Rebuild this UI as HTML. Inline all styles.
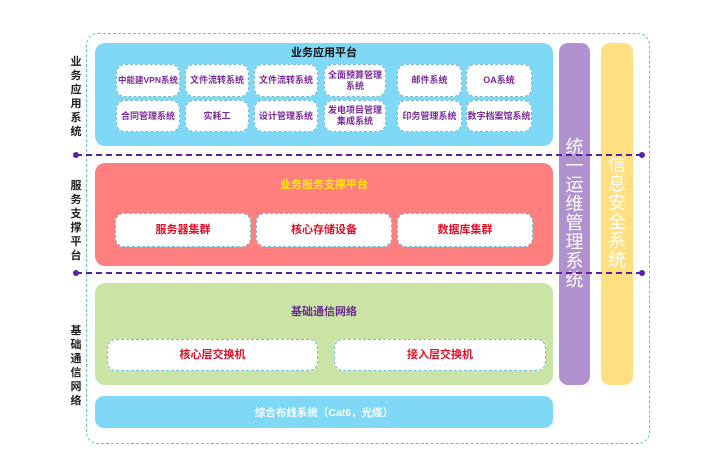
<!DOCTYPE html>
<html><head><meta charset="utf-8"><style>
*{margin:0;padding:0;box-sizing:border-box}
body{width:709px;height:452px;background:#fff;position:relative;overflow:hidden;font-family:"Liberation Sans","Noto Sans CJK SC",sans-serif;font-weight:bold}
.a{position:absolute}
.outer{left:86px;top:33px;width:564px;height:411px;border:1.5px dashed #5fc4d0;border-radius:12px}
.panel{border-radius:10px}
.box{position:absolute;background:#fff;border:1.5px dashed #6bbfd0;border-radius:9px;display:flex;align-items:center;justify-content:center;text-align:center;font-size:9px;color:#7a2a9a;line-height:11px}
.vt{position:absolute;width:14px;font-size:11px;line-height:14px;color:#222;text-align:center}
.big{position:absolute;font-size:18px;line-height:19px;color:#fff;text-align:center;font-weight:normal}
.dl{position:absolute;left:76px;width:566px;border-top:2px dashed #5a22a0;z-index:5}
.dot{position:absolute;width:6px;height:6px;border-radius:50%;background:#5a22a0;z-index:5}
</style></head><body>
<div class="a outer"></div>
<div class="a panel" style="left:95px;top:43px;width:458px;height:103px;background:#7fd8f5"></div>
<div class="a" style="left:95px;top:44px;width:458px;text-align:center;font-size:11px;color:#111">业务应用平台</div>
<div class="box" style="left:116px;top:64px;width:64px;height:33px;font-size:8.5px">中能建VPN系统</div>
<div class="box" style="left:185px;top:64px;width:64px;height:33px">文件流转系统</div>
<div class="box" style="left:254px;top:64px;width:64px;height:33px">文件流转系统</div>
<div class="box" style="left:324px;top:64px;width:62px;height:33px">全面预算管理<br>系统</div>
<div class="box" style="left:397px;top:64px;width:65px;height:33px">邮件系统</div>
<div class="box" style="left:466px;top:64px;width:66px;height:33px">OA系统</div>
<div class="box" style="left:116px;top:100px;width:64px;height:32px">合同管理系统</div>
<div class="box" style="left:185px;top:100px;width:64px;height:32px">实耗工</div>
<div class="box" style="left:254px;top:100px;width:64px;height:32px">设计管理系统</div>
<div class="box" style="left:324px;top:100px;width:62px;height:32px">发电项目管理<br>集成系统</div>
<div class="box" style="left:397px;top:100px;width:65px;height:32px">印务管理系统</div>
<div class="box" style="left:466px;top:100px;width:66px;height:32px">数字档案馆系统</div>

<div class="a panel" style="left:95px;top:163px;width:458px;height:103px;background:#ff7f7f"></div>
<div class="a" style="left:95px;top:176px;width:458px;text-align:center;font-size:11px;color:#ffee00">业务服务支撑平台</div>
<div class="box" style="left:115px;top:213px;width:136px;height:34px;color:#e0102a;font-size:11px">服务器集群</div>
<div class="box" style="left:256px;top:213px;width:136px;height:34px;color:#e0102a;font-size:11px">核心存储设备</div>
<div class="box" style="left:397px;top:213px;width:136px;height:34px;color:#e0102a;font-size:11px">数据库集群</div>

<div class="a panel" style="left:95px;top:283px;width:458px;height:102px;background:#c9e4a4"></div>
<div class="a" style="left:95px;top:303px;width:458px;text-align:center;font-size:11px;color:#6a2a90">基础通信网络</div>
<div class="box" style="left:107px;top:339px;width:211px;height:32px;color:#e0102a;font-size:11px">核心层交换机</div>
<div class="box" style="left:334px;top:339px;width:212px;height:32px;color:#e0102a;font-size:11px">接入层交换机</div>

<div class="a panel" style="left:95px;top:396px;width:458px;height:32px;background:#7fd8f5;border-radius:9px"></div>
<div class="a" style="left:95px;top:405px;width:458px;text-align:center;font-size:10.5px;color:#fff">综合布线系统（Cat6，光缆）</div>

<div class="a" style="left:559px;top:43px;width:31px;height:342px;background:#b291cf;border-radius:9px"></div>
<div class="big" style="left:559px;top:138px;width:31px">统<br>一<br>运<br>维<br>管<br>理<br>系<br>统</div>
<div class="a" style="left:601px;top:43px;width:32px;height:342px;background:#ffdf7f;border-radius:9px"></div>
<div class="big" style="left:601px;top:156px;width:32px">信<br>息<br>安<br>全<br>系<br>统</div>

<div class="vt" style="left:69px;top:55px">业<br>务<br>应<br>用<br>系<br>统</div>
<div class="vt" style="left:69px;top:179px">服<br>务<br>支<br>撑<br>平<br>台</div>
<div class="vt" style="left:69px;top:324px">基<br>础<br>通<br>信<br>网<br>络</div>

<div class="dl" style="top:154px"></div>
<div class="dot" style="left:73px;top:152px"></div><div class="dot" style="left:639px;top:152px"></div>
<div class="dl" style="top:272px"></div>
<div class="dot" style="left:73px;top:270px"></div><div class="dot" style="left:639px;top:270px"></div>
</body></html>
